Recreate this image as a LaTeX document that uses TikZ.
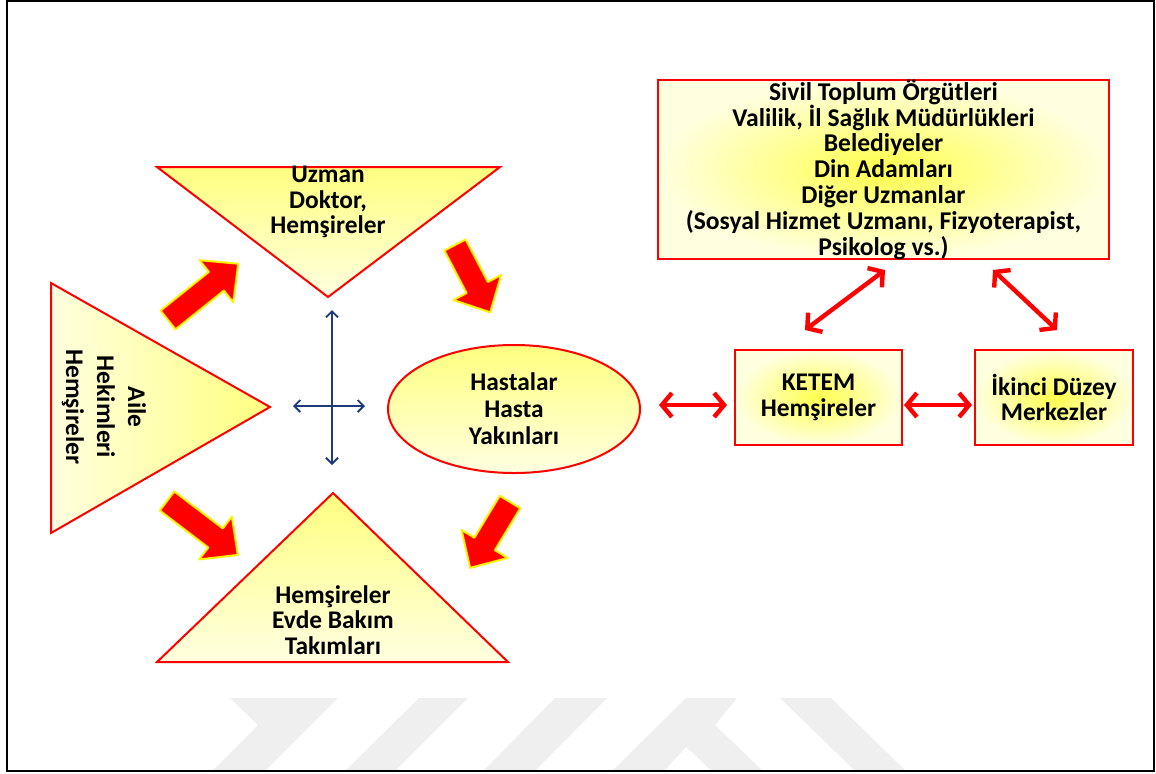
\documentclass[tikz,border=0pt]{standalone}
\usepackage{fontspec}
\setmainfont{Carlito}
\usepackage{xcolor}
\usepackage{tikz}
\usetikzlibrary{positioning, arrows.meta, shapes.geometric}

\definecolor{pale}{HTML}{FFFFE0}
\definecolor{gold}{HTML}{FFFF80}
\definecolor{navy}{HTML}{1F3A78}
\definecolor{wmark}{HTML}{EFEFEF}

\begin{document}
\begin{tikzpicture}[x=0.5pt,y=-0.5pt,
	pics/fatarrow/.style={code={
		\draw[fill=red,draw=yellow,line width=1pt,line join=round]
			(0,-12) -- (#1-28,-12) -- (#1-28,-27) -- (#1,0) -- (#1-28,27) -- (#1-28,12) -- (0,12) -- cycle;}}]
	\tikzstyle{redline}=[draw=red,line width=1pt]
	\tikzstyle{txt}=[align=center,inner sep=0pt,font=\fontsize{12.7}{12.7}\selectfont\bfseries]
	\tikzstyle{box}=[redline,txt,rectangle,inner color=yellow!70,outer color=pale]
	\tikzstyle{dbl}=[red,line width=2.2pt,{Straight Barb[length=5pt,width=12pt]}-{Straight Barb[length=5pt,width=12pt]}]
	\tikzstyle{thin}=[navy,line width=0.9pt,{Straight Barb[length=3pt,width=6pt]}-{Straight Barb[length=3pt,width=6pt]}]
	\useasboundingbox (0,0) rectangle (1156,773);
	% watermark
	\fill[wmark] (230,698) -- (338,698) -- (265,771) -- (212,771) -- (258,725) -- cycle;
	\fill[wmark] (419,698) -- (468,698) -- (395,771) -- (345,771) -- cycle;
	\fill[wmark] (555,698) -- (607,698) -- (535,771) -- (483,771) -- cycle;
	\fill[wmark] (686,698) -- (737,698) -- (715,725) -- (763,771) -- (712,771) -- (686,747) -- (664,771) -- (612,771) -- cycle;
	\fill[wmark] (780,698) -- (831,698) -- (906,771) -- (855,771) -- cycle;
	\draw[line width=1pt] (7,1) rectangle (1154,771);
	% triangles
	\draw[redline,top color=gold,bottom color=pale] (157,167) -- (500,167) -- (328,297) -- cycle;
	\draw[redline,left color=pale,right color=gold] (51,283) -- (270,407) -- (51,533) -- cycle;
	\draw[redline,top color=gold,bottom color=pale] (333,493) -- (508,662) -- (157,662) -- cycle;
	\node[txt] (uzman) at (328,202) {Uzman\\Doktor,\\Hemşireler};
	\node[txt,rotate=-90,font=\fontsize{12.7}{15.5}\selectfont\bfseries] (aile) at (104,407) {Aile\\Hekimleri\\Hemşireler};
	\node[txt] (evde) at (333,620) {Hemşireler\\Evde Bakım\\Takımları};
	% center
	\node[redline,txt,ellipse,minimum width=126pt,minimum height=64pt,top color=gold,bottom color=pale,font=\fontsize{12.7}{13.5}\selectfont\bfseries] (hasta) at (514,409) {Hastalar\\Hasta\\Yakınları};
	\node[box,minimum width=83.5pt,minimum height=47.5pt] (ketem) at (818.5,397.5) {KETEM\\Hemşireler};
	\node[box,minimum width=79pt,minimum height=47.5pt] (ikinci) at (1054,397.5) {İkinci Düzey\\Merkezler};
	\node[box,minimum width=225.5pt,minimum height=88.5pt,font=\fontsize{12.8}{12.9}\selectfont\bfseries] (stk) at (883.5,169.5) {Sivil Toplum Örgütleri\\Valilik, İl Sağlık Müdürlükleri\\Belediyeler\\Din Adamları\\Diğer Uzmanlar\\(Sosyal Hizmet Uzmanı, Fizyoterapist,\\Psikolog vs.)};
	% cross
	\coordinate (up) at (332,310);
	\coordinate (down) at (332,465);
	\coordinate (left) at (293,406);
	\coordinate (right) at (365,406);
	\draw[thin] (up) -- (down);
	\draw[thin] (left) -- (right);
	% big arrows
	\coordinate (ar1) at (168,320);
	\coordinate (ar2) at (455,245);
	\coordinate (ar3) at (167,501);
	\coordinate (ar4) at (510,502);
	\pic[rotate=38.7] at (ar1) {fatarrow=90};
	\pic[rotate=-62.4] at (ar2) {fatarrow=76};
	\pic[rotate=-37.3] at (ar3) {fatarrow=89};
	\pic[rotate=-121.2] at (ar4) {fatarrow=77};
	% links
	\coordinate (kw) at ([yshift=-3.75pt]ketem.west);
	\coordinate (ke) at ([yshift=-3.75pt]ketem.east);
	\coordinate (iw) at ([yshift=-3.75pt]ikinci.west);
	\coordinate (k2) at (805,330);
	\coordinate (s1) at (885,270);
	\coordinate (i2) at (1057,330);
	\coordinate (s2) at (993,270);
	\draw[dbl,shorten <=9pt,shorten >=3.5pt] (hasta.east |- kw) -- (kw);
	\draw[dbl,shorten <=0.5pt,shorten >=1pt] (ke) -- (iw);
	\draw[dbl] (k2) -- (s1);
	\draw[dbl] (i2) -- (s2);
\end{tikzpicture}
\end{document}
